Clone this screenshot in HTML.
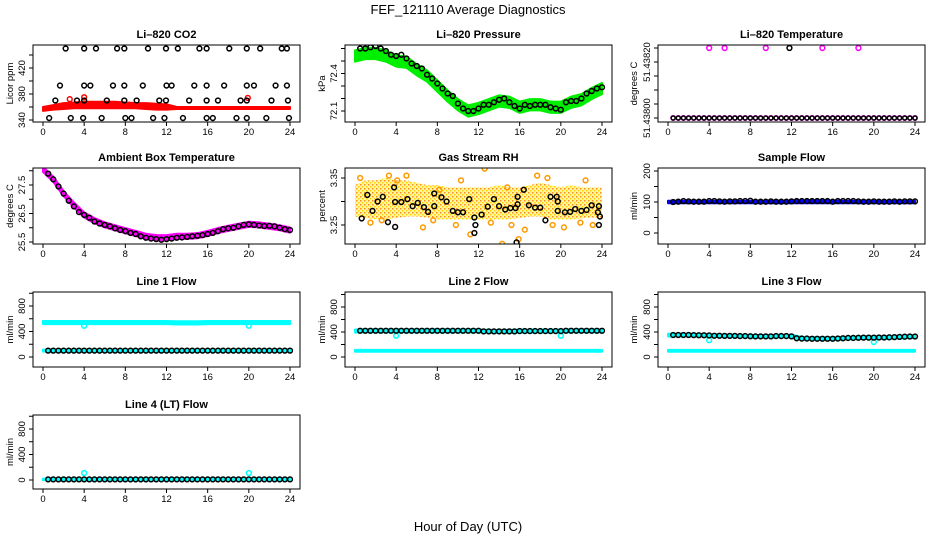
<!DOCTYPE html>
<html><head><meta charset="utf-8"><style>
html,body{margin:0;padding:0;background:#fff;}
svg{display:block;font-family:"Liberation Sans",sans-serif;}
</style></head><body>
<svg id="c" width="936" height="540" viewBox="0 0 936 540">
<text x="468" y="14" text-anchor="middle" font-size="13">FEF_121110  Average Diagnostics</text>
<text x="468" y="531" text-anchor="middle" font-size="13">Hour of Day (UTC)</text>
</svg>
<script>
// ---- data ----
const hours24 = [0,1,2,3,4,5,6,7,8,9,10,11,12,13,14,15,16,17,18,19,20,21,22,23,24];
const hours48 = [0.5,1,1.5,2,2.5,3,3.5,4,4.5,5,5.5,6,6.5,7,7.5,8,8.5,9,9.5,10,10.5,11,11.5,12,12.5,13,13.5,14,14.5,15,15.5,16,16.5,17,17.5,18,18.5,19,19.5,20,20.5,21,21.5,22,22.5,23,23.5,24];
const xTicks = [0,4,8,12,16,20,24];

// CO2
const co2Lower = [354,356,357,358,358,358,358,358,358,358,357,356,356,357,357,357,357,357,357,357,357,357,357,357,357];
const co2Upper = [360,363,366,367,368,368,368,368,367,366,366,365,364,360,360,360,360,360,360,360,360,360,360,360,360];
const co2BlackHours = [2.2,4,5.15,7.2,7.9,10.2,11.95,13.1,15.2,15.9,18.1,19.8,21.1,23.2,23.7, 1.65,4,4.6,6.8,7.9,9.7,12,12.5,14.7,15.9,17.6,19.8,20.5,22.6,23.7, 1.2,3.3,4,6.2,7.9,9.1,11.3,11.95,14.2,15.9,17,19.2,19.8,22.2,23.8, 0.6,2.7,3.9,5.7,8,8.6,10.7,11.8,13.6,15.9,16.5,18.8,19.8,21.7,23.9];
const co2BlackVals = [450,450,450,450,450,450,450,450,450,450,450,450,450,450,450, 393,393,393,393,393,393,393,393,393,393,393,393,393,393,393, 370,370,370,370,370,370,370,370,370,370,370,370,370,370,370, 343,343,343,343,343,343,343,343,343,343,343,343,343,343,343];
const co2RedHours = [2.6,4.0,19.9];
const co2RedVals = [372,375,374];

// Pressure
const presCenter = [72.54,72.56,72.56,72.54,72.50,72.49,72.43,72.38,72.30,72.22,72.15,72.10,72.12,72.15,72.18,72.17,72.13,72.15,72.15,72.13,72.13,72.17,72.19,72.24,72.28];
const presBlack = [72.60,72.60,72.61,72.62,72.60,72.58,72.55,72.54,72.55,72.52,72.48,72.46,72.44,72.39,72.36,72.32,72.28,72.24,72.22,72.16,72.12,72.10,72.10,72.12,72.15,72.15,72.17,72.19,72.20,72.17,72.14,72.12,72.15,72.14,72.15,72.15,72.15,72.13,72.12,72.11,72.17,72.18,72.18,72.20,72.24,72.26,72.28,72.29];

// Li-820 temperature
const tempBase = [51.438,51.438,51.438,51.438,51.438,51.438,51.438,51.438,51.438,51.438,51.438,51.438,51.438,51.438,51.438,51.438,51.438,51.438,51.438,51.438,51.438,51.438,51.438,51.438,51.438,51.438,51.438,51.438,51.438,51.438,51.438,51.438,51.438,51.438,51.438,51.438,51.438,51.438,51.438,51.438,51.438,51.438,51.438,51.438,51.438,51.438,51.438,51.438];
const tempHighMagHours = [4.0,5.5,9.5,15.0,18.5];
const tempHighMagVals = [51.43825,51.43825,51.43825,51.43825,51.43825];
const tempHighBlackHours = [11.8];
const tempHighBlackVals = [51.43825];

// Ambient box temperature
const ambCenter = [28.05,27.7,27.2,26.8,26.45,26.25,26.1,26.0,25.9,25.8,25.7,25.65,25.65,25.7,25.7,25.72,25.8,25.9,25.98,26.05,26.12,26.1,26.05,26.0,25.92];
const ambBlack = [27.9,27.7,27.45,27.2,26.95,26.75,26.55,26.45,26.35,26.22,26.15,26.1,26.05,25.98,25.92,25.88,25.82,25.78,25.7,25.65,25.62,25.6,25.58,25.6,25.62,25.65,25.66,25.68,25.7,25.72,25.74,25.78,25.82,25.88,25.95,25.98,26.0,26.05,26.1,26.12,26.1,26.08,26.06,26.07,26.05,26.0,25.95,25.92];

// Gas stream RH
const rhLower = [3.268,3.265,3.262,3.262,3.265,3.268,3.268,3.266,3.262,3.262,3.262,3.262,3.262,3.262,3.262,3.262,3.265,3.268,3.268,3.262,3.262,3.262,3.264,3.266,3.266];
const rhUpper = [3.335,3.345,3.345,3.35,3.345,3.345,3.34,3.335,3.335,3.33,3.33,3.33,3.33,3.33,3.335,3.33,3.33,3.335,3.34,3.335,3.33,3.335,3.33,3.33,3.33];
const rhOrangeHours = [0.5,1.5,2.6,3.3,5.0,6.6,7.6,9.8,11.2,12.6,13.2,14.3,15.2,15.9,16.5,17.7,19.2,20.3,21.9,23.1,4.1,8.2,10.3,14.8,18.7,22.4];
const rhOrangeVals = [3.35,3.255,3.26,3.355,3.355,3.245,3.26,3.25,3.23,3.37,3.255,3.21,3.25,3.22,3.24,3.355,3.25,3.245,3.255,3.25,3.345,3.325,3.345,3.33,3.35,3.345];
const rhBlackHours = [0.65,1.2,1.7,2.2,2.7,3.2,3.8,3.9,3.9,4.5,5.1,5.6,6.1,6.7,7.1,7.7,7.7,8.4,8.9,9.5,10.0,10.5,11.1,11.6,11.7,11.6,12.3,12.9,13.5,14.0,14.6,15.1,15.6,15.8,15.8,15.7,16.4,16.9,17.5,18.0,18.5,19.0,19.6,19.7,19.7,20.4,20.9,21.4,22.0,22.5,23.0,23.7,23.6,23.8,23.7];
const rhBlackVals = [3.264,3.314,3.28,3.30,3.31,3.256,3.33,3.299,3.246,3.299,3.305,3.29,3.297,3.288,3.278,3.317,3.29,3.309,3.30,3.28,3.277,3.277,3.305,3.266,3.25,3.233,3.272,3.289,3.305,3.29,3.283,3.286,3.286,3.294,3.31,3.213,3.325,3.292,3.287,3.287,3.26,3.31,3.31,3.30,3.28,3.277,3.278,3.284,3.28,3.282,3.292,3.29,3.277,3.268,3.25];

// Flows
const sampleLower = [96,96,96,96,96,96,96,96,96,96,96,96,96,96,96,96,96,96,96,96,96,96,96,96,96];
const sampleUpper = [104,104,104,104,104,104,104,104,104,104,104,104,105,105,105,105,105,104,104,104,104,104,104,104,104];
const sampleBlack = [100,101,103,102,101,101,101,103,103,102,101,102,102,103,103,104,101,101,101,102,101,101,101,102,103,103,103,103,103,103,103,101,103,103,103,103,102,101,101,102,101,101,101,102,101,102,102,102];

const line1High = [540,540,540,540,540,540,540,540,540,540,540,540,540,535,535,535,540,540,540,540,540,540,540,540,540];
const line1Low = [100,100,100,100,100,100,100,100,100,100,100,100,100,100,100,100,100,100,100,100,100,100,100,100,100];
const line1OutHours = [4,20];
const line1OutVals = [490,490];
const line1Black = [100,100,100,100,100,100,100,100,100,100,100,100,100,100,100,100,100,100,100,100,100,100,100,100,100,100,100,100,100,100,100,100,100,100,100,100,100,100,100,100,100,100,100,100,100,100,100,100];

const line2High = [415,420,420,420,420,420,420,420,420,420,420,420,420,410,410,410,415,415,415,415,415,420,420,420,420];
const line2Low = [100,100,100,100,100,100,100,100,100,100,100,100,100,100,100,100,100,100,100,100,100,100,100,100,100];
const line2OutHours = [4,20];
const line2OutVals = [340,340];
const line2Black = [420,420,420,420,420,420,420,420,420,420,420,420,420,420,420,420,420,420,420,420,420,420,420,420,410,410,410,410,410,410,410,415,415,415,415,415,415,415,415,415,420,420,420,420,420,420,420,420];

const line3High = [350,352,352,350,345,340,338,335,333,330,330,335,335,300,295,295,295,300,305,310,310,310,315,322,328];
const line3Low = [100,100,100,100,100,100,100,100,100,100,100,100,100,100,100,100,100,100,100,100,100,100,100,100,100];
const line3OutHours = [4,20];
const line3OutVals = [270,240];
const line3Black = [352,352,352,352,350,348,348,345,340,340,338,338,338,335,335,332,330,330,330,330,335,335,335,330,300,295,295,292,292,292,292,292,295,300,305,305,308,310,310,310,312,312,315,318,322,325,328,328];

const line4Level = [10,10,10,10,10,10,10,10,10,10,10,10,10,10,10,10,10,10,10,10,10,10,10,10,10];
const line4OutHours = [4,20];
const line4OutVals = [110,110];
const line4Black = [10,10,10,10,10,10,10,10,10,10,10,10,10,10,10,10,10,10,10,10,10,10,10,10,10,10,10,10,10,10,10,10,10,10,10,10,10,10,10,10,10,10,10,10,10,10,10,10];

// ---- drawing ----
const svg = document.getElementById('c');
const NS = 'http://www.w3.org/2000/svg';
function mk(tag, attrs, parent){ const e=document.createElementNS(NS,tag); for(const k in attrs) e.setAttribute(k,attrs[k]); (parent||svg).appendChild(e); return e; }
const cols = [{x0:43,x1:290,bl:33,br:300,yl:9},{x0:355,x1:602,bl:345,br:612,yl:321},{x0:668,x1:915,bl:658,br:925,yl:633}];
const rows = [{t:45,b:122},{t:168,b:244},{t:292,b:367},{t:415,b:489}];

function panel(opt){
  const c=cols[opt.col], r=rows[opt.row];
  const g=mk('g',{});
  
  
  const X=h=>c.x0+(h/24)*(c.x1-c.x0);
  const Y=v=>opt.pa+(v-opt.va)*(opt.pb-opt.pa)/(opt.vb-opt.va);
  const title=mk('text',{x:(c.bl+c.br)/2,y:r.t-7,'text-anchor':'middle','font-size':11,'font-weight':'bold'},g);
  title.textContent=opt.title;
  
  
  const clip='clip'+opt.col+opt.row;
  const cp=mk('clipPath',{id:clip},g); mk('rect',{x:c.bl,y:r.t,width:c.br-c.bl,height:r.b-r.t},cp);
  const plot=mk('g',{'clip-path':'url(#'+clip+')'},g);
  opt.draw(plot,X,Y);
  const box=mk('rect',{x:c.bl,y:r.t,width:c.br-c.bl,height:r.b-r.t,fill:'none',stroke:'#000','stroke-width':1},g);
  
  
  const xa=mk('g',{},g);
  
  
  mk('line',{x1:X(0),x2:X(24),y1:r.b,y2:r.b,stroke:'#000'},xa);
  xTicks.forEach(t=>{mk('line',{x1:X(t),x2:X(t),y1:r.b,y2:r.b+4,stroke:'#000'},xa);
    const tx=mk('text',{x:X(t),y:r.b+13,'text-anchor':'middle','font-size':9.5},xa); tx.textContent=t;});
  const ya=mk('g',{},g);
  
  
  const tk=opt.ticks;
  mk('line',{x1:c.bl,x2:c.bl,y1:Y(tk[0]),y2:Y(tk[tk.length-1]),stroke:'#000'},ya);
  tk.forEach(t=>{const y=Y(t); mk('line',{x1:c.bl-4,x2:c.bl,y1:y,y2:y,stroke:'#000'},ya);});
  opt.labels.forEach((l,i)=>{const y=Y(opt.labelVals[i]);
    const tx=mk('text',{x:0,y:0,'text-anchor':'middle','font-size':9.5,transform:`translate(${c.bl-8},${y}) rotate(-90)`},ya); tx.textContent=l;});
  const yt=mk('text',{x:0,y:0,'text-anchor':'middle','font-size':9.5,transform:`translate(${c.yl+4},${(r.t+r.b)/2}) rotate(-90)`},g);
  yt.textContent=opt.ylab;
  
  
}
function bandPts(X,Y,lo,hi){
  return hours24.map((h,i)=>X(h)+','+Y(hi[i])).concat(hours24.slice().reverse().map((h,j)=>X(h)+','+Y(lo[hours24.length-1-j]))).join(' ');
}
function band(p,X,Y,lo,hi,color,name){
  const e=mk('polygon',{points:bandPts(X,Y,lo,hi),fill:color,stroke:color,'stroke-width':2,'stroke-linejoin':'round'},p);
  
  
}
function circles(p,X,Y,hs,vs,color,name,r){
  const g=mk('g',{},p);
  
  
  hs.forEach((h,i)=>mk('circle',{cx:X(h),cy:Y(vs[i]),r:r||2.4,fill:'none',stroke:color,'stroke-width':1.5},g));
}

panel({name:'co2-panel',title:'Li\u2013820 CO2',ylab:'Licor ppm',col:0,row:0,va:340,pa:120,vb:420,pb:68,
  ticks:[340,360,380,400,420,440],labels:['340','380','420'],labelVals:[340,380,420],
  draw:(p,X,Y)=>{band(p,X,Y,co2Lower,co2Upper,'#ff0000','co2-band');
    circles(p,X,Y,co2RedHours,co2RedVals,'#ff0000','co2-red-outliers');
    circles(p,X,Y,co2BlackHours,co2BlackVals,'#000','co2-averages');}});

panel({name:'pressure-panel',title:'Li\u2013820 Pressure',ylab:'kPa',col:1,row:0,va:72.1,pa:111,vb:72.4,pb:73.5,
  ticks:[72.1,72.2,72.3,72.4,72.5,72.6],labels:['72.1','72.4'],labelVals:[72.1,72.4],
  draw:(p,X,Y)=>{band(p,X,Y,presCenter.map(v=>v-0.045),presCenter.map(v=>v+0.045),'#00ee00','pressure-band');
    circles(p,X,Y,hours48,presBlack,'#000','pressure-averages');}});

panel({name:'li820-temperature-panel',title:'Li\u2013820 Temperature',ylab:'degrees C',col:2,row:0,va:51.438,pa:118,vb:51.4382,pb:62,
  ticks:[51.438,51.43805,51.4381,51.43815,51.4382,51.43825],labels:['51.43800','51.43820'],labelVals:[51.438,51.4382],
  draw:(p,X,Y)=>{circles(p,X,Y,hours48,tempBase,'#ff00ff','temp-magenta',2.2);
    circles(p,X,Y,hours48,tempBase,'#000','temp-averages',2);
    circles(p,X,Y,tempHighMagHours,tempHighMagVals,'#ff00ff','temp-magenta-high');
    circles(p,X,Y,tempHighBlackHours,tempHighBlackVals,'#000','temp-black-high');}});

panel({name:'ambient-temperature-panel',title:'Ambient Box Temperature',ylab:'degrees C',col:0,row:1,va:25.5,pa:242,vb:27.5,pb:185,
  ticks:[25.5,26,26.5,27,27.5,28],labels:['25.5','26.5','27.5'],labelVals:[25.5,26.5,27.5],
  draw:(p,X,Y)=>{band(p,X,Y,ambCenter.map(v=>v-0.09),ambCenter.map(v=>v+0.09),'#ff00ff','ambient-band');
    circles(p,X,Y,hours48,ambBlack,'#000','ambient-averages');}});

panel({name:'gas-rh-panel',title:'Gas Stream RH',ylab:'percent',col:1,row:1,va:3.25,pa:225,vb:3.35,pb:178,
  ticks:[3.25,3.30,3.35],labels:['3.25','3.35'],labelVals:[3.25,3.35],
  draw:(p,X,Y)=>{
    const pat=mk('pattern',{id:'dots',width:4,height:4,patternUnits:'userSpaceOnUse'},p);
    mk('rect',{x:0,y:0,width:4,height:4,fill:'#fff6a0'},pat);
    mk('rect',{x:0,y:0,width:1.5,height:1.5,fill:'#ff8c1a'},pat);
    mk('rect',{x:2,y:2,width:1.5,height:1.5,fill:'#ffd000'},pat);
    const e=mk('polygon',{points:bandPts(X,Y,rhLower,rhUpper),fill:'url(#dots)'},p);
    
    
    circles(p,X,Y,rhOrangeHours,rhOrangeVals,'#ff9900','rh-scatter');
    circles(p,X,Y,rhBlackHours,rhBlackVals,'#000','rh-averages');}});

panel({name:'sample-flow-panel',title:'Sample Flow',ylab:'ml/min',col:2,row:1,va:0,pa:233,vb:200,pb:171,
  ticks:[0,50,100,150,200],labels:['0','100','200'],labelVals:[0,100,200],
  draw:(p,X,Y)=>{band(p,X,Y,sampleLower,sampleUpper,'#0000ff','sample-band');
    circles(p,X,Y,hours48,sampleBlack,'#000','sample-averages');}});

const flowTicks=[0,200,400,600,800,1000];
panel({name:'line1-flow-panel',title:'Line 1 Flow',ylab:'ml/min',col:0,row:2,va:0,pa:357,vb:800,pb:306,
  ticks:flowTicks,labels:['0','400','800'],labelVals:[0,400,800],
  draw:(p,X,Y)=>{band(p,X,Y,line1High.map(v=>v-25),line1High.map(v=>v+25),'#00ffff','line1-high-band');
    band(p,X,Y,line1Low.map(v=>v-15),line1Low.map(v=>v+15),'#00ffff','line1-low-band');
    circles(p,X,Y,line1OutHours,line1OutVals,'#00ffff','line1-outliers');
    circles(p,X,Y,hours48,line1Black,'#000','line1-averages');}});

panel({name:'line2-flow-panel',title:'Line 2 Flow',ylab:'ml/min',col:1,row:2,va:0,pa:357,vb:800,pb:307,
  ticks:flowTicks,labels:['0','400','800'],labelVals:[0,400,800],
  draw:(p,X,Y)=>{band(p,X,Y,line2High.map(v=>v-25),line2High.map(v=>v+25),'#00ffff','line2-high-band');
    band(p,X,Y,line2Low.map(v=>v-15),line2Low.map(v=>v+15),'#00ffff','line2-low-band');
    circles(p,X,Y,line2OutHours,line2OutVals,'#00ffff','line2-outliers');
    circles(p,X,Y,hours48,line2Black,'#000','line2-averages');}});

panel({name:'line3-flow-panel',title:'Line 3 Flow',ylab:'ml/min',col:2,row:2,va:0,pa:357,vb:800,pb:307,
  ticks:flowTicks,labels:['0','400','800'],labelVals:[0,400,800],
  draw:(p,X,Y)=>{band(p,X,Y,line3High.map(v=>v-22),line3High.map(v=>v+22),'#00ffff','line3-high-band');
    band(p,X,Y,line3Low.map(v=>v-15),line3Low.map(v=>v+15),'#00ffff','line3-low-band');
    circles(p,X,Y,line3OutHours,line3OutVals,'#00ffff','line3-outliers');
    circles(p,X,Y,hours48,line3Black,'#000','line3-averages');}});

panel({name:'line4-flow-panel',title:'Line 4 (LT) Flow',ylab:'ml/min',col:0,row:3,va:0,pa:480,vb:800,pb:429,
  ticks:flowTicks,labels:['0','400','800'],labelVals:[0,400,800],
  draw:(p,X,Y)=>{band(p,X,Y,line4Level.map(v=>v-12),line4Level.map(v=>v+12),'#00ffff','line4-band');
    circles(p,X,Y,line4OutHours,line4OutVals,'#00ffff','line4-outliers');
    circles(p,X,Y,hours48,line4Black,'#000','line4-averages');}});
</script>
</body></html>
